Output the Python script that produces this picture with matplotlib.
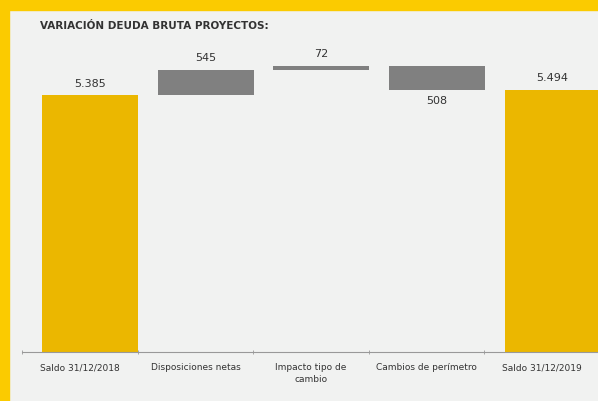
import matplotlib
matplotlib.use('Agg')
import numpy as np
from matplotlib import pyplot as plt
from matplotlib.patches import Rectangle

plt.rcParams['font.family'] = ['Liberation Sans Narrow', 'DejaVu Sans']

# datos
categorias = ['Saldo 31/12/2018', 'Disposiciones netas', 'Impacto tipo de\ncambio',
              'Cambios de perímetro', 'Saldo 31/12/2019']
valores = [5385, 545, 72, -508, 5494]
es_total = [True, False, False, False, True]

oro = '#EBB700'
gris = '#808080'
fondo = '#F1F2F1'
amarillo = '#FBCB00'

fig = plt.figure(figsize=(5.98, 4.01), dpi=100, facecolor=fondo)
# marco amarillo arriba e izquierda
fig.patches.append(Rectangle((0, 1 - 10 / 401), 1, 10 / 401, transform=fig.transFigure,
                             color=amarillo, zorder=0))
fig.patches.append(Rectangle((0, 0), 9 / 598, 1, transform=fig.transFigure,
                             color=amarillo, zorder=0))

ax = fig.add_axes([22 / 598, 49 / 401, 578 / 598, 312 / 401])
ax.set_facecolor(fondo)

# calcular bases de la cascada
acum = 0
for i, (v, tot) in enumerate(zip(valores, es_total)):
    if tot:
        base, alto = 0, v
        acum = v
    else:
        base = acum if v > 0 else acum + v
        alto = abs(v)
        acum += v
    ax.bar(i + 0.09, alto, bottom=base, width=0.83, color=oro if tot else gris)
    txt = f'{abs(v):,}'.replace(',', '.')
    if v >= 0:
        ax.annotate(txt, (i + 0.09, base + alto), xytext=(0, 5), textcoords='offset points',
                    ha='center', va='bottom', fontsize=8, color='#333333')
    else:
        ax.annotate(txt, (i + 0.09, base), xytext=(0, -4), textcoords='offset points',
                    ha='center', va='top', fontsize=8, color='#333333')

ax.set_xlim(-0.5, 4.5)
ax.set_ylim(0, 6550)
ax.set_yticks([])
ax.set_xticks(np.arange(len(categorias)))
ax.set_xticklabels(categorias, fontsize=6.5, color='#333333', linespacing=1.4)
ax.tick_params(axis='x', which='major', length=0, pad=8)
ax.set_xticks(np.arange(len(categorias) + 1) - 0.5, minor=True)
ax.tick_params(axis='x', which='minor', length=3, color='#999999', direction='inout')
for s in ['top', 'right', 'left']:
    ax.spines[s].set_visible(False)
ax.spines['bottom'].set_color('#999999')
ax.spines['bottom'].set_linewidth(0.8)

fig.text(40 / 598, 1 - 26 / 401, 'VARIACIÓN DEUDA BRUTA PROYECTOS:', fontsize=7.5,
         fontweight='bold', color='#333333', va='center', ha='left')

fig.savefig('out.png', dpi=100, facecolor=fondo)
